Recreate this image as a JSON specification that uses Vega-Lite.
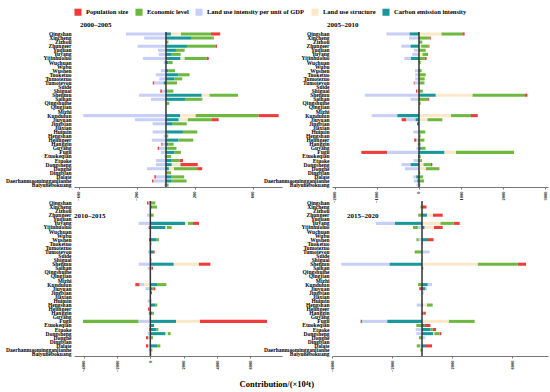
{
  "$schema": "https://vega.github.io/schema/vega-lite/v6.json",
  "background": "white",
  "padding": {"left": 5, "right": 2, "top": 8, "bottom": 2},
  "datasets": {
    "f": [
      {"k": "P", "n": "Population size", "o": 5},
      {"k": "E", "n": "Economic level", "o": 4},
      {"k": "I", "n": "Land use intensity per unit of GDP", "o": 3},
      {"k": "S", "n": "Land use structure", "o": 2},
      {"k": "C", "n": "Carbon emission intensity", "o": 1}
    ],
    "d": [
      {"p":1,"c":"Qingshan","P":64,"E":207,"I":-276,"S":69,"C":34},
      {"p":1,"c":"Xincheng","P":7,"E":145,"I":-150,"C":177},
      {"p":1,"c":"Zizhou","E":12,"C":5},
      {"p":1,"c":"Zhungeer","P":12,"E":195,"I":-195,"C":145},
      {"p":1,"c":"Yuquan","E":60,"I":-55,"C":69},
      {"p":1,"c":"Yuyang","E":62,"I":-50,"C":39},
      {"p":1,"c":"Yijinhuoluo","P":16,"E":152,"I":-160,"S":28,"C":99},
      {"p":1,"c":"Wuchuan","E":30,"I":-15,"C":16},
      {"p":1,"c":"Wushen","E":46,"I":-35,"C":16},
      {"p":1,"c":"Tuoketuo","E":78,"I":-70,"C":85},
      {"p":1,"c":"Tumotezuo","E":55,"I":-46,"C":57},
      {"p":1,"c":"Tumoteyou","P":-11,"E":76,"I":-64,"C":-16},
      {"p":1,"c":"Shiguai","P":-11,"E":41,"I":-28,"C":10},
      {"p":1,"c":"Shenmu","P":5,"E":191,"I":-186,"S":53,"C":246},
      {"p":1,"c":"Saihan","P":5,"E":115,"I":-103,"C":131},
      {"p":1,"c":"Qingshuihe","E":20,"C":3},
      {"p":1,"c":"Kundulun","P":140,"E":434,"I":-570,"S":106,"C":97},
      {"p":1,"c":"Jiuyuan","P":46,"E":168,"I":-214,"S":62,"C":87},
      {"p":1,"c":"Jingbian","E":97,"I":-92,"C":46},
      {"p":1,"c":"Huimin","E":99,"I":-92,"C":117},
      {"p":1,"c":"Hengshan","E":16,"I":-15},
      {"p":1,"c":"Helingeer","E":103,"I":-97,"C":85},
      {"p":1,"c":"Hanggin","P":-9,"E":37,"I":-23,"C":16},
      {"p":1,"c":"Guyang","P":-11,"E":64,"I":-46,"C":8},
      {"p":1,"c":"Fugu","E":46,"I":-35,"C":57},
      {"p":1,"c":"Etuokeqian","E":35,"I":-12},
      {"p":1,"c":"Etuoke","P":23,"E":55,"I":-69,"C":39},
      {"p":1,"c":"Dongsheng","P":120,"I":-69,"S":60,"C":39},
      {"p":1,"c":"Donghe","P":35,"E":160,"I":-131,"S":35,"C":20},
      {"p":1,"c":"Dingbian","E":35},
      {"p":1,"c":"Dalate","P":-11,"E":87,"I":-69,"C":39},
      {"p":1,"c":"Daerhanmaomingganlianhe","P":-11,"E":103,"I":-85,"C":39},
      {"p":1,"c":"Baiyunebokuang","E":18,"I":-12},

      {"p":2,"c":"Qingshan","P":55,"E":500,"I":-555,"S":531,"C":-222},
      {"p":2,"c":"Xincheng","P":20,"E":240,"I":-238,"C":20},
      {"p":2,"c":"Zizhou","E":60,"C":20},
      {"p":2,"c":"Zhungeer","P":24,"E":175,"I":-222,"S":50,"C":-200},
      {"p":2,"c":"Yuquan","E":140,"I":-120,"C":20},
      {"p":2,"c":"Yuyang","E":136,"I":-160,"S":80},
      {"p":2,"c":"Yijinhuoluo","P":40,"E":140,"I":-160,"C":-190},
      {"p":2,"c":"Wuchuan","E":30,"C":10},
      {"p":2,"c":"Wushen","E":64,"I":-80,"C":-16},
      {"p":2,"c":"Tuoketuo","E":140,"I":-90,"C":20},
      {"p":2,"c":"Tumotezuo","E":135,"I":-90},
      {"p":2,"c":"Tumoteyou","P":-24,"E":130,"I":-100},
      {"p":2,"c":"Shiguai","P":-30,"E":90,"I":-40},
      {"p":2,"c":"Shenmu","P":55,"E":1254,"I":-1290,"S":873,"C":397},
      {"p":2,"c":"Saihan","P":24,"E":198,"I":-200,"C":20},
      {"p":2,"c":"Qingshuihe","E":40},
      {"p":2,"c":"Kundulun","P":160,"E":476,"I":-611,"S":762,"C":-516},
      {"p":2,"c":"Jiuyuan","P":-112,"E":357,"I":-222,"S":198,"C":-80},
      {"p":2,"c":"Jingbian","C":-48},
      {"p":2,"c":"Huimin","E":150,"I":-135},
      {"p":2,"c":"Hengshan","E":40},
      {"p":2,"c":"Helingeer","P":-55,"E":130,"I":-60},
      {"p":2,"c":"Hanggin","E":40,"I":-40},
      {"p":2,"c":"Guyang","E":95,"I":-60,"C":60},
      {"p":2,"c":"Fugu","P":-619,"E":1389,"I":-754,"S":270,"C":603},
      {"p":2,"c":"Etuokeqian","E":40,"C":-20},
      {"p":2,"c":"Etuoke","P":25,"E":40,"I":-110,"C":-20},
      {"p":2,"c":"Dongsheng","P":32,"E":183,"I":-214,"S":103,"C":-200},
      {"p":2,"c":"Donghe","P":24,"E":300,"I":-333,"S":160},
      {"p":2,"c":"Dingbian","E":30},
      {"p":2,"c":"Dalate","E":100,"I":-70,"C":-65},
      {"p":2,"c":"Daerhanmaomingganlianhe","E":120,"I":-80,"C":-40},
      {"p":2,"c":"Baiyunebokuang","E":30,"I":-60},

      {"p":3,"c":"Qingshan","P":-100,"E":300,"I":-100},
      {"p":3,"c":"Xincheng","E":300,"C":100},
      {"p":3,"c":"Zhungeer","E":200,"I":-200},
      {"p":3,"c":"Yuyang","P":360,"E":300,"I":-700,"S":180,"C":2080},
      {"p":3,"c":"Yijinhuoluo","P":-100,"E":280,"S":100,"C":900},
      {"p":3,"c":"Wushen","P":-80,"E":140,"C":380},
      {"p":3,"c":"Tuoketuo","C":60},
      {"p":3,"c":"Tumoteyou","P":100,"I":-140,"C":160},
      {"p":3,"c":"Shiguai","P":60},
      {"p":3,"c":"Shenmu","P":700,"I":-700,"S":1500,"C":1400},
      {"p":3,"c":"Saihan","P":100,"E":60,"I":-160},
      {"p":3,"c":"Kundulun","P":-260,"E":560,"I":-280,"S":-360,"C":400},
      {"p":3,"c":"Jiuyuan","P":80,"E":120,"I":-300,"C":100},
      {"p":3,"c":"Jingbian","C":100},
      {"p":3,"c":"Huimin","E":60,"I":-160},
      {"p":3,"c":"Hengshan","E":120,"C":300},
      {"p":3,"c":"Helingeer","P":-100,"I":-40},
      {"p":3,"c":"Hanggin","P":-60,"E":100,"I":-30,"C":120},
      {"p":3,"c":"Fugu","P":4040,"E":-3340,"I":-700,"S":1420,"C":1540},
      {"p":3,"c":"Etuokeqian","P":-40,"C":220},
      {"p":3,"c":"Etuoke","P":-60,"E":120,"C":360},
      {"p":3,"c":"Dongsheng","E":160,"I":-160,"S":160,"C":900},
      {"p":3,"c":"Donghe","P":-140,"E":160,"I":-120},
      {"p":3,"c":"Dalate","P":-120,"E":200,"I":-140,"C":400},
      {"p":3,"c":"Daerhanmaomingganlianhe","E":60,"I":-100,"C":60},
      {"p":3,"c":"Baiyunebokuang","E":60},

      {"p":4,"c":"Xincheng","P":300,"E":-100},
      {"p":4,"c":"Zhungeer","P":650,"E":-250,"S":400,"C":330},
      {"p":4,"c":"Yuyang","P":400,"E":890,"I":-1267,"S":1220,"C":-1800},
      {"p":4,"c":"Yijinhuoluo","P":600,"E":-330,"I":-270,"S":620,"C":160},
      {"p":4,"c":"Wushen","P":440,"E":-150,"I":-220,"C":330},
      {"p":4,"c":"Tuoketuo","E":30},
      {"p":4,"c":"Tumoteyou","E":-490,"I":510},
      {"p":4,"c":"Shiguai","C":-30},
      {"p":4,"c":"Shenmu","P":560,"E":2670,"I":-3220,"S":3710,"C":-2160},
      {"p":4,"c":"Saihan","P":80},
      {"p":4,"c":"Kundulun","E":-270,"I":290,"C":380},
      {"p":4,"c":"Jiuyuan","P":-180,"I":110,"C":220},
      {"p":4,"c":"Jingbian","S":60,"E":30},
      {"p":4,"c":"Huimin","E":-30},
      {"p":4,"c":"Hengshan","E":380,"I":-350,"S":270,"C":60},
      {"p":4,"c":"Hanggin","P":150,"I":-80,"C":100},
      {"p":4,"c":"Fugu","P":-90,"E":1730,"I":-1690,"S":1780,"C":-2310},
      {"p":4,"c":"Etuokeqian","P":380,"E":-380,"C":180},
      {"p":4,"c":"Etuoke","P":220,"E":160,"I":-420,"C":560},
      {"p":4,"c":"Dongsheng","P":110,"E":360,"I":-380,"S":90,"C":730},
      {"p":4,"c":"Donghe","E":-150,"I":220,"C":-50},
      {"p":4,"c":"Dalate","P":400,"E":-240,"I":-110,"C":270},
      {"p":4,"c":"Daerhanmaomingganlianhe","E":-110}
    ]
  },
  "title": {"text": "Contribution/(×10⁴t)", "orient": "bottom", "anchor": "middle", "font": "Liberation Serif", "fontWeight": "bold", "fontSize": 8.5, "offset": 8},
  "columns": 2,
  "bounds": "flush",
  "spacing": {"row": 14, "column": 50},
  "concat": [
    {
      "width": 208, "height": 155,
      "title": {"text": "2000–2005", "anchor": "start", "frame": "group", "offset": 3, "dx": 6},
      "data": {"name": "d"},
      "transform": [
        {"filter": "datum.p == 1"},
        {"fold": ["P","E","I","S","C"], "as": ["k","v"]},
        {"filter": "isValid(datum.v)"},
        {"lookup": "k", "from": {"data": {"name": "f"}, "key": "k", "fields": ["n","o"]}}
      ],
      "layer": [
        {
          "mark": {"type": "bar"},
          "encoding": {
            "y": {"field": "c", "type": "nominal", "title": null, "scale": {"domain": ["Qingshan","Xincheng","Zizhou","Zhungeer","Yuquan","Yuyang","Yijinhuoluo","Wuchuan","Wubu","Wushen","Tuoketuo","Tumotezuo","Tumoteyou","Suide","Shiguai","Shenmu","Saihan","Qingshuihe","Qingjian","Mizhi","Kundulun","Jiuyuan","Jingbian","Jiaxian","Huimin","Hengshan","Helingeer","Hanggin","Guyang","Fugu","Etuokeqian","Etuoke","Dongsheng","Donghe","Dingbian","Dalate","Daerhanmaomingganlianhe","Baiyunebokuang"], "paddingInner": 0.25, "paddingOuter": 0.1}},
            "x": {"field": "v", "type": "quantitative", "title": null, "scale": {"domain": [-634, 800], "nice": false, "zero": false}, "axis": {"values": [-600,-400,-200,0,200,400,600,800]}},
            "color": {"field": "n", "type": "nominal", "scale": {"domain": ["Population size","Economic level","Land use intensity per unit of GDP","Land use structure","Carbon emission intensity"], "range": ["#ef3b39","#6fb83f","#c8cff6","#fce8c9","#18989a"]}, "legend": {"title": null}},
            "order": {"field": "o", "type": "quantitative"}
          }
        },
        {"data": {"values": [{}]}, "mark": {"type": "rule", "color": "#333333", "strokeWidth": 1.5}, "encoding": {"x": {"datum": 0}}}
      ]
    },
    {
      "width": 216, "height": 155,
      "title": {"text": "2005–2010", "anchor": "start", "frame": "group", "offset": 3, "dx": -5},
      "data": {"name": "d"},
      "transform": [
        {"filter": "datum.p == 2"},
        {"fold": ["P","E","I","S","C"], "as": ["k","v"]},
        {"filter": "isValid(datum.v)"},
        {"lookup": "k", "from": {"data": {"name": "f"}, "key": "k", "fields": ["n","o"]}}
      ],
      "layer": [
        {
          "mark": {"type": "bar"},
          "encoding": {
            "y": {"field": "c", "type": "nominal", "title": null, "scale": {"domain": ["Qingshan","Xincheng","Zizhou","Zhungeer","Yuquan","Yuyang","Yijinhuoluo","Wuchuan","Wubu","Wushen","Tuoketuo","Tumotezuo","Tumoteyou","Suide","Shiguai","Shenmu","Saihan","Qingshuihe","Qingjian","Mizhi","Kundulun","Jiuyuan","Jingbian","Jiaxian","Huimin","Hengshan","Helingeer","Hanggin","Guyang","Fugu","Etuokeqian","Etuoke","Dongsheng","Donghe","Dingbian","Dalate","Daerhanmaomingganlianhe","Baiyunebokuang"], "paddingInner": 0.25, "paddingOuter": 0.1}},
            "x": {"field": "v", "type": "quantitative", "title": null, "scale": {"domain": [-2070, 3070], "nice": false, "zero": false}, "axis": {"values": [-2000,-1000,0,1000,2000,3000]}},
            "color": {"field": "n", "type": "nominal", "scale": {"domain": ["Population size","Economic level","Land use intensity per unit of GDP","Land use structure","Carbon emission intensity"], "range": ["#ef3b39","#6fb83f","#c8cff6","#fce8c9","#18989a"]}, "legend": {"title": null}},
            "order": {"field": "o", "type": "quantitative"}
          }
        },
        {"data": {"values": [{}]}, "mark": {"type": "rule", "color": "#333333", "strokeWidth": 1.5}, "encoding": {"x": {"datum": 0}}}
      ]
    },
    {
      "width": 208, "height": 155,
      "title": {"text": "2010–2015", "anchor": "start", "frame": "group", "offset": -19, "dx": 0},
      "data": {"name": "d"},
      "transform": [
        {"filter": "datum.p == 3"},
        {"fold": ["P","E","I","S","C"], "as": ["k","v"]},
        {"filter": "isValid(datum.v)"},
        {"lookup": "k", "from": {"data": {"name": "f"}, "key": "k", "fields": ["n","o"]}}
      ],
      "layer": [
        {
          "mark": {"type": "bar"},
          "encoding": {
            "y": {"field": "c", "type": "nominal", "title": null, "scale": {"domain": ["Qingshan","Xincheng","Zizhou","Zhungeer","Yuquan","Yuyang","Yijinhuoluo","Wuchuan","Wubu","Wushen","Tuoketuo","Tumotezuo","Tumoteyou","Suide","Shiguai","Shenmu","Saihan","Qingshuihe","Qingjian","Mizhi","Kundulun","Jiuyuan","Jingbian","Jiaxian","Huimin","Hengshan","Helingeer","Hanggin","Guyang","Fugu","Etuokeqian","Etuoke","Dongsheng","Donghe","Dingbian","Dalate","Daerhanmaomingganlianhe","Baiyunebokuang"], "paddingInner": 0.25, "paddingOuter": 0.1}},
            "x": {"field": "v", "type": "quantitative", "title": null, "scale": {"domain": [-4580, 7900], "nice": false, "zero": false}, "axis": {"values": [-4000,-3000,-2000,-1000,0,1000,2000,3000,4000,5000,6000,7000]}},
            "color": {"field": "n", "type": "nominal", "scale": {"domain": ["Population size","Economic level","Land use intensity per unit of GDP","Land use structure","Carbon emission intensity"], "range": ["#ef3b39","#6fb83f","#c8cff6","#fce8c9","#18989a"]}, "legend": {"title": null}},
            "order": {"field": "o", "type": "quantitative"}
          }
        },
        {"data": {"values": [{}]}, "mark": {"type": "rule", "color": "#333333", "strokeWidth": 1.5}, "encoding": {"x": {"datum": 0}}}
      ]
    },
    {
      "width": 216, "height": 155,
      "title": {"text": "2015–2020", "anchor": "start", "frame": "group", "offset": -19, "dx": 15},
      "data": {"name": "d"},
      "transform": [
        {"filter": "datum.p == 4"},
        {"fold": ["P","E","I","S","C"], "as": ["k","v"]},
        {"filter": "isValid(datum.v)"},
        {"lookup": "k", "from": {"data": {"name": "f"}, "key": "k", "fields": ["n","o"]}}
      ],
      "layer": [
        {
          "mark": {"type": "bar"},
          "encoding": {
            "y": {"field": "c", "type": "nominal", "title": null, "scale": {"domain": ["Qingshan","Xincheng","Zizhou","Zhungeer","Yuquan","Yuyang","Yijinhuoluo","Wuchuan","Wubu","Wushen","Tuoketuo","Tumotezuo","Tumoteyou","Suide","Shiguai","Shenmu","Saihan","Qingshuihe","Qingjian","Mizhi","Kundulun","Jiuyuan","Jingbian","Jiaxian","Huimin","Hengshan","Helingeer","Hanggin","Guyang","Fugu","Etuokeqian","Etuoke","Dongsheng","Donghe","Dingbian","Dalate","Daerhanmaomingganlianhe","Baiyunebokuang"], "paddingInner": 0.25, "paddingOuter": 0.1}},
            "x": {"field": "v", "type": "quantitative", "title": null, "scale": {"domain": [-6000, 8400], "nice": false, "zero": false}, "axis": {"values": [-6000,-4000,-2000,0,2000,4000,6000,8000]}},
            "color": {"field": "n", "type": "nominal", "scale": {"domain": ["Population size","Economic level","Land use intensity per unit of GDP","Land use structure","Carbon emission intensity"], "range": ["#ef3b39","#6fb83f","#c8cff6","#fce8c9","#18989a"]}, "legend": {"title": null}},
            "order": {"field": "o", "type": "quantitative"}
          }
        },
        {"data": {"values": [{}]}, "mark": {"type": "rule", "color": "#333333", "strokeWidth": 1.5}, "encoding": {"x": {"datum": 0}}}
      ]
    }
  ],
  "config": {
    "view": {"stroke": null},
    "font": "Liberation Serif",
    "title": {"font": "Liberation Serif", "fontWeight": "bold", "fontSize": 7, "color": "#000"},
    "axisY": {"domain": false, "ticks": false, "labelFont": "Liberation Serif", "labelFontWeight": "bold", "labelFontSize": 5.5, "labelPadding": 3, "labelColor": "#000", "grid": false},
    "axisX": {"domainColor": "#777", "tickColor": "#777", "tickSize": 2, "labelFont": "Liberation Serif", "labelFontWeight": "bold", "labelFontSize": 4.5, "labelAngle": 270, "labelColor": "#000", "labelPadding": 2, "grid": false, "labelFlush": false, "labelOverlap": false, "format": "d"},
    "legend": {"orient": "top", "offset": 5, "direction": "horizontal", "symbolType": "square", "symbolSize": 50, "symbolStrokeWidth": 0, "labelFont": "Liberation Serif", "labelFontWeight": "bold", "labelFontSize": 6.5, "labelColor": "#000", "columnPadding": 6}
  }
}
